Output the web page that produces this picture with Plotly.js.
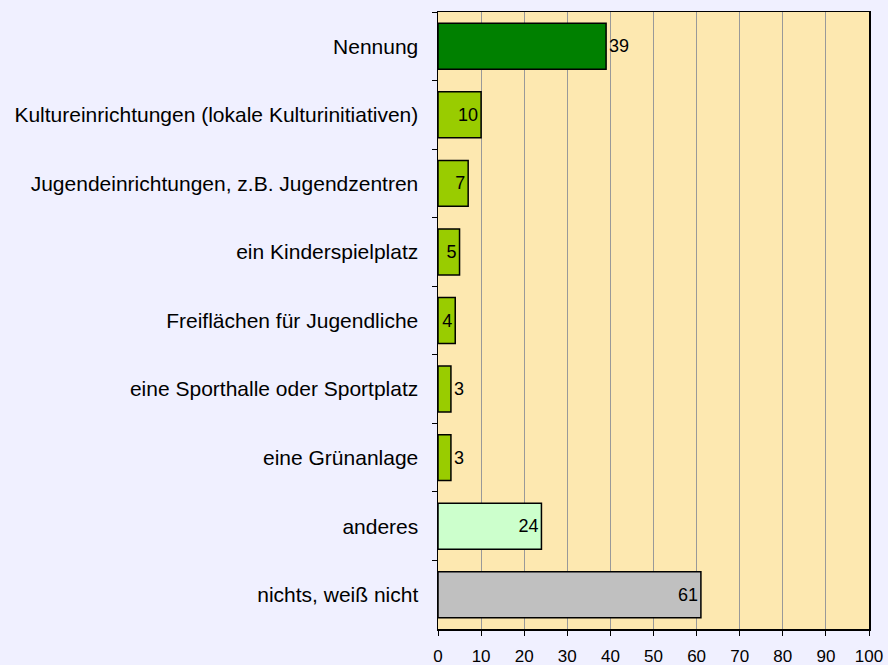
<!DOCTYPE html>
<html>
<head>
<meta charset="utf-8">
<script src="https://cdn.plot.ly/plotly-3.0.1.min.js"></script>
<style>html,body{margin:0;padding:0;background:#F0F0FF;}#chart{width:888px;height:665px;}</style>
</head>
<body>
<div id="chart"></div>
<script>
const categories = [
  "Nennung",
  "Kultureinrichtungen (lokale Kulturinitiativen)",
  "Jugendeinrichtungen, z.B. Jugendzentren",
  "ein Kinderspielplatz",
  "Freiflächen für Jugendliche",
  "eine Sporthalle oder Sportplatz",
  "eine Grünanlage",
  "anderes",
  "nichts, weiß nicht"
];
const values = [39, 10, 7, 5, 4, 3, 3, 24, 61];
const xTicks = [0, 10, 20, 30, 40, 50, 60, 70, 80, 90, 100];

const barColors = ["#008000", "#99CC00", "#99CC00", "#99CC00", "#99CC00", "#99CC00", "#99CC00", "#CCFFCC", "#C0C0C0"];
const textPos = ["outside", "inside", "inside", "inside", "inside", "outside", "outside", "inside", "inside"];

const fam = "Liberation Sans, Arial, sans-serif";

const trace = {
  type: "bar",
  orientation: "h",
  y: categories,
  x: values,
  text: values.map(String),
  textposition: textPos,
  insidetextanchor: "end",
  constraintext: "none",
  textfont: {family: fam, size: 18, color: "#000000"},
  outsidetextfont: {family: fam, size: 18, color: "#000000"},
  insidetextfont: {family: fam, size: 18, color: "#000000"},
  cliponaxis: false,
  marker: {color: barColors, line: {color: "#000000", width: 1.5}},
  hoverinfo: "none"
};

const layout = {
  width: 888,
  height: 665,
  margin: {l: 438, r: 19, t: 12, b: 36, pad: 0},
  paper_bgcolor: "#F0F0FF",
  plot_bgcolor: "#FDE8B0",
  showlegend: false,
  bargap: 0.33,
  font: {family: fam, size: 18, color: "#000000"},
  xaxis: {
    range: [0, 100],
    tickvals: xTicks,
    ticktext: xTicks.map(String),
    showgrid: true,
    gridcolor: "#999999",
    gridwidth: 1,
    zeroline: false,
    showline: true,
    linecolor: "#000000",
    linewidth: 1.5,
    mirror: true,
    ticks: "outside",
    ticklen: 5,
    tickcolor: "#000000",
    tickfont: {size: 17},
    ticklabelstandoff: 6,
    fixedrange: true
  },
  yaxis: {
    type: "category",
    categoryorder: "array",
    categoryarray: categories,
    autorange: "reversed",
    showgrid: false,
    zeroline: false,
    showline: true,
    linecolor: "#000000",
    linewidth: 1.5,
    mirror: true,
    ticks: "outside",
    tickson: "boundaries",
    ticklen: 5,
    tickcolor: "#000000",
    tickfont: {size: 21},
    ticklabelstandoff: 14,
    fixedrange: true
  }
};

Plotly.newPlot("chart", [trace], layout, {displayModeBar: false, staticPlot: true});
</script>
</body>
</html>
